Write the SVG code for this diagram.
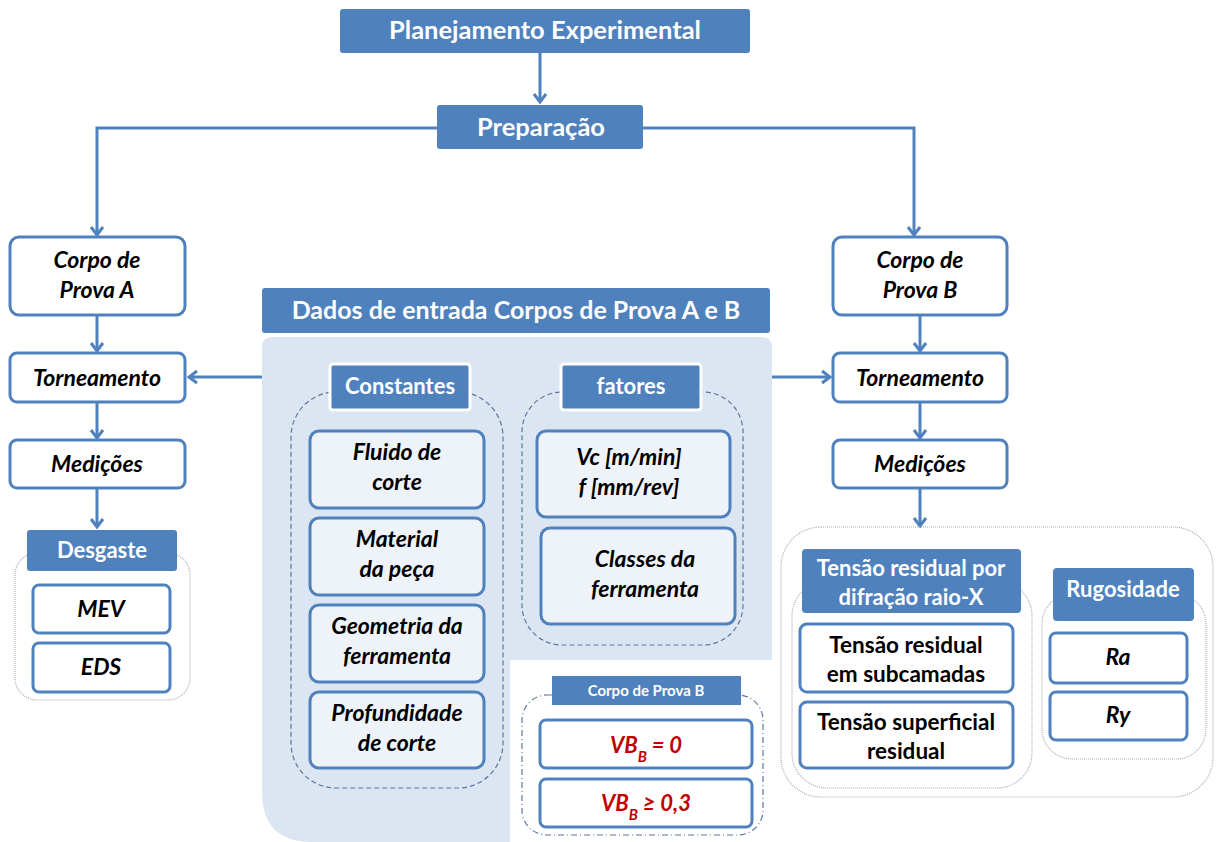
<svg xmlns="http://www.w3.org/2000/svg" width="1217" height="842" viewBox="0 0 1217 842">
<style>
.hdr{fill:#4f81bd}
.hdrw{fill:#4f81bd;stroke:#fff;stroke-width:3}
.box{fill:#fff;stroke:#4f81bd;stroke-width:3}
.lbox{fill:#eef3fa;stroke:#4f81bd;stroke-width:3}
.t{font-family:Lato,"Liberation Sans",sans-serif;font-weight:bold;font-style:italic;font-size:23px;fill:#000;text-anchor:middle}
.n{font-style:normal;font-size:22.5px}
.w{font-family:Lato,"Liberation Sans",sans-serif;font-weight:bold;font-size:22px;fill:#fff;text-anchor:middle}
.r{fill:#c00000;font-size:22px}
.conn{stroke:#4f81bd;stroke-width:3;fill:none}
.dash{fill:none;stroke:#5b77a3;stroke-width:1.2;stroke-dasharray:5 3}
.dd{fill:#fff;stroke:#5b77a3;stroke-width:1.2;stroke-dasharray:6 3 1 3}
.dot{fill:none;stroke:#a3afc0;stroke-width:1.2;stroke-dasharray:1 1}
</style>
<defs>
<marker id="ar" markerUnits="userSpaceOnUse" viewBox="-10 -8 12 16" markerWidth="12" markerHeight="16" refX="0" refY="0" orient="auto">
<path d="M-8,-6 L0,0 L-8,6" fill="none" stroke="#4f81bd" stroke-width="3"/>
</marker>
</defs>
<rect width="1217" height="842" fill="#fff"/>

<g id="panel">
<path d="M272,337 H762 Q772,337 772,347 V660 H510 V842 H312 Q262,842 262,792 V347 Q262,337 272,337 Z" fill="#dce6f2"/>
</g>

<g id="connectors">
<path class="conn" d="M540,53 V102" marker-end="url(#ar)"/>
<path class="conn" d="M437,128 H97 V235" marker-end="url(#ar)"/>
<path class="conn" d="M643,128 H914 V235" marker-end="url(#ar)"/>
<path class="conn" d="M97,315 V351" marker-end="url(#ar)"/>
<path class="conn" d="M97,402 V438" marker-end="url(#ar)"/>
<path class="conn" d="M97,488 V527" marker-end="url(#ar)"/>
<path class="conn" d="M920,315 V351" marker-end="url(#ar)"/>
<path class="conn" d="M920,402 V438" marker-end="url(#ar)"/>
<path class="conn" d="M920,488 V526" marker-end="url(#ar)"/>
<path class="conn" d="M262,377 H189" marker-end="url(#ar)"/>
<path class="conn" d="M772,377 H830" marker-end="url(#ar)"/>
</g>

<g id="planejamento">
<rect class="hdr" x="340" y="9" width="410" height="44" rx="3"/>
<text class="w" x="545" y="39" style="font-size:25.5px">Planejamento Experimental</text>
</g>
<g id="preparacao">
<rect class="hdr" x="437" y="105" width="206" height="44" rx="3"/>
<text class="w" x="541" y="136" style="font-size:25.5px">Preparação</text>
</g>

<g id="corpoA">
<rect class="box" x="10" y="237" width="175" height="78" rx="9"/>
<text class="t" x="97" y="268">Corpo de</text>
<text class="t" x="97" y="298">Prova A</text>
</g>
<g id="tornA">
<rect class="box" x="10" y="353" width="175" height="49" rx="7"/>
<text class="t" x="97" y="386">Torneamento</text>
</g>
<g id="medA">
<rect class="box" x="10" y="440" width="175" height="48" rx="7"/>
<text class="t" x="97" y="472">Medições</text>
</g>
<g id="desgaste">
<rect class="dot" x="15" y="553" width="175" height="147" rx="22"/>
<rect class="hdr" x="27" y="530" width="150" height="41" rx="3"/>
<text class="w" x="102" y="558">Desgaste</text>
</g>
<g id="mev">
<rect class="box" x="33" y="585" width="137" height="48" rx="6"/>
<text class="t" x="101" y="617">MEV</text>
</g>
<g id="eds">
<rect class="box" x="33" y="643" width="137" height="49" rx="6"/>
<text class="t" x="101" y="675">EDS</text>
</g>

<g id="dados">
<rect class="hdr" x="262" y="288" width="508" height="45" rx="3"/>
<text class="w" x="516" y="319" style="font-size:25px">Dados de entrada Corpos de Prova A e B</text>
</g>

<g id="constantes">
<rect class="dash" x="291" y="392" width="212" height="396" rx="45"/>
<rect class="hdrw" x="330" y="364" width="140" height="46" rx="3"/>
<text class="w" x="400" y="394">Constantes</text>
</g>
<g id="fluido">
<rect class="lbox" x="310" y="431" width="174" height="77" rx="9"/>
<text class="t" x="397" y="460">Fluido de</text>
<text class="t" x="397" y="490">corte</text>
</g>
<g id="material">
<rect class="lbox" x="310" y="518" width="174" height="77" rx="9"/>
<text class="t" x="397" y="547">Material</text>
<text class="t" x="397" y="577">da peça</text>
</g>
<g id="geometria">
<rect class="lbox" x="310" y="605" width="174" height="77" rx="9"/>
<text class="t" x="397" y="634">Geometria da</text>
<text class="t" x="397" y="664">ferramenta</text>
</g>
<g id="profundidade">
<rect class="lbox" x="310" y="692" width="174" height="76" rx="9"/>
<text class="t" x="397" y="721">Profundidade</text>
<text class="t" x="397" y="751">de corte</text>
</g>

<g id="fatores">
<rect class="dash" x="522" y="392" width="221" height="253" rx="40"/>
<rect class="hdrw" x="561" y="364" width="140" height="46" rx="3"/>
<text class="w" x="631" y="394">fatores</text>
</g>
<g id="vc">
<rect class="lbox" x="537" y="431" width="193" height="86" rx="9"/>
<text class="t" x="629" y="465">Vc [m/min]</text>
<text class="t" x="629" y="495">f [mm/rev]</text>
</g>
<g id="classes">
<rect class="lbox" x="541" y="528" width="194" height="96" rx="9"/>
<text class="t" x="645" y="567">Classes da</text>
<text class="t" x="645" y="597">ferramenta</text>
</g>

<g id="corpoBgroup">
<rect class="dd" x="522" y="695" width="241" height="140" rx="25"/>
<rect class="hdr" x="552" y="676" width="189" height="29"/>
<text class="w" x="646" y="696" style="font-size:15px">Corpo de Prova B</text>
</g>
<g id="vb0">
<rect class="box" x="540" y="720" width="212" height="48" rx="6"/>
<text class="t r" x="646" y="753">VB<tspan baseline-shift="sub" font-size="15">B</tspan> = 0</text>
</g>
<g id="vb03">
<rect class="box" x="540" y="779" width="212" height="48" rx="6"/>
<text class="t r" x="646" y="811">VB<tspan baseline-shift="sub" font-size="15">B</tspan> ≥ 0,3</text>
</g>

<g id="corpoB">
<rect class="box" x="833" y="237" width="174" height="78" rx="9"/>
<text class="t" x="920" y="268">Corpo de</text>
<text class="t" x="920" y="298">Prova B</text>
</g>
<g id="tornB">
<rect class="box" x="833" y="353" width="174" height="49" rx="7"/>
<text class="t" x="920" y="386">Torneamento</text>
</g>
<g id="medB">
<rect class="box" x="833" y="440" width="174" height="48" rx="7"/>
<text class="t" x="920" y="472">Medições</text>
</g>

<g id="medicoesB">
<rect class="dot" x="781" y="527" width="432" height="270" rx="40"/>
</g>
<g id="tensao">
<rect class="dot" x="792" y="581" width="240" height="207" rx="35"/>
<rect class="hdr" x="802" y="549" width="219" height="64" rx="4"/>
<text class="w" x="911" y="576">Tensão residual por</text>
<text class="w" x="911" y="605">difração raio-X</text>
</g>
<g id="subcamadas">
<rect class="box" x="800" y="624" width="213" height="68" rx="7"/>
<text class="t n" x="906" y="653">Tensão residual</text>
<text class="t n" x="906" y="682">em subcamadas</text>
</g>
<g id="superficial">
<rect class="box" x="800" y="702" width="213" height="66" rx="7"/>
<text class="t n" x="906" y="730">Tensão superficial</text>
<text class="t n" x="906" y="759">residual</text>
</g>
<g id="rugosidade">
<rect class="dot" x="1042" y="594" width="164" height="165" rx="30"/>
<rect class="hdr" x="1053" y="568" width="141" height="53" rx="4"/>
<text class="w" x="1123" y="597">Rugosidade</text>
</g>
<g id="ra">
<rect class="box" x="1050" y="633" width="137" height="50" rx="6"/>
<text class="t" x="1118" y="665">Ra</text>
</g>
<g id="ry">
<rect class="box" x="1050" y="692" width="137" height="48" rx="6"/>
<text class="t" x="1118" y="723">Ry</text>
</g>
</svg>
